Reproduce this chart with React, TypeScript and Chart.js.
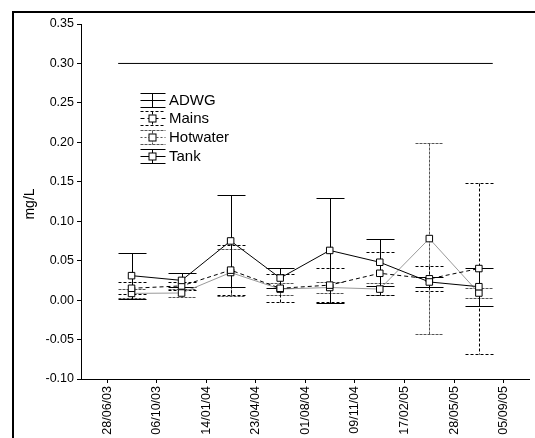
import React, { useEffect, useRef } from 'react';
import { Chart, registerables } from 'chart.js';

Chart.register(...registerables);

// ---- data ----
const tickLabels = ['28/06/03', '06/10/03', '14/01/04', '23/04/04', '01/08/04', '09/11/04', '17/02/05', '28/05/05', '05/09/05'];
const yTickValues = [-0.1, -0.05, 0, 0.05, 0.1, 0.15, 0.2, 0.25, 0.3, 0.35];
const sampleDates = ['16/08/03', '25/11/03', '03/03/04', '11/06/04', '19/09/04', '29/12/04', '08/04/05', '17/07/05'];
const adwgDates = ['20/07/03', '14/08/05'];
const adwgValues = [0.3, 0.3];
const mainsMeans = [0.015, 0.018, 0.038, 0.015, 0.019, 0.034, 0.027, 0.04];
const mainsErrors = [0.0075, 0.005, 0.032, 0.018, 0.022, 0.027, 0.016, 0.108];
const hotwaterMeans = [0.0085, 0.009, 0.035, 0.014, 0.016, 0.014, 0.078, 0.009];
const hotwaterErrors = [0.0055, 0.0053, 0.03, 0.0076, 0.007, 0.0078, 0.121, 0.006];
const tankMeans = [0.031, 0.025, 0.075, 0.028, 0.063, 0.048, 0.023, 0.017];
const tankErrors = [0.029, 0.009, 0.058, 0.013, 0.067, 0.03, 0.006, 0.024];
const seriesNames = ['ADWG', 'Mains', 'Hotwater', 'Tank'];
const yTitle = 'mg/L';

const DAY = 86400000;
function parseDMY(s: string): number {
  const [d, m, y] = s.split('/').map(Number);
  return Date.UTC(2000 + y, m - 1, d) / DAY;
}
const baseDay = parseDMY(tickLabels[0]);
const toDay = (s: string) => parseDMY(s) - baseDay;

const FONT = '"Liberation Sans", Arial, sans-serif';

type Style = { line: string; lineDash: number[]; bar: string; barDash: number[]; marker: boolean };
const styles: Record<string, Style> = {
  ADWG: { line: '#000', lineDash: [], bar: '#000', barDash: [], marker: false },
  Mains: { line: '#000', lineDash: [4, 3], bar: '#000', barDash: [3, 2], marker: true },
  Hotwater: { line: '#9a9a9a', lineDash: [], bar: '#555', barDash: [3, 1], marker: true },
  Tank: { line: '#000', lineDash: [], bar: '#000', barDash: [], marker: true },
};

const errorSeries = [
  { name: 'Hotwater', means: hotwaterMeans, errs: hotwaterErrors },
  { name: 'Mains', means: mainsMeans, errs: mainsErrors },
  { name: 'Tank', means: tankMeans, errs: tankErrors },
];

const framePlugin = {
  id: 'frame',
  beforeDraw(chart: any) {
    const ctx = chart.ctx;
    ctx.save();
    ctx.fillStyle = '#fff';
    ctx.fillRect(0, 0, chart.width, chart.height);
    ctx.strokeStyle = '#000';
    ctx.lineWidth = 2;
    ctx.beginPath();
    ctx.moveTo(13, chart.height + 2);
    ctx.lineTo(13, 12);
    ctx.lineTo(chart.width + 2, 12);
    ctx.stroke();
    ctx.restore();
  },
};

const errorBarPlugin = {
  id: 'errorBars',
  beforeDatasetsDraw(chart: any) {
    const ctx = chart.ctx;
    const xs = chart.scales.x;
    const ys = chart.scales.y;
    const cap = 14;
    ctx.save();
    errorSeries.forEach((s) => {
      const st = styles[s.name];
      ctx.strokeStyle = st.bar;
      ctx.lineWidth = 1;
      ctx.setLineDash(st.barDash);
      s.means.forEach((m, i) => {
        const x = Math.round(xs.getPixelForValue(toDay(sampleDates[i]))) + 0.5;
        const yTop = Math.round(ys.getPixelForValue(m + s.errs[i])) + 0.5;
        const yBot = Math.round(ys.getPixelForValue(m - s.errs[i])) + 0.5;
        ctx.beginPath();
        ctx.moveTo(x, yTop);
        ctx.lineTo(x, yBot);
        ctx.moveTo(x - cap, yTop);
        ctx.lineTo(x + cap, yTop);
        ctx.moveTo(x - cap, yBot);
        ctx.lineTo(x + cap, yBot);
        ctx.stroke();
      });
    });
    ctx.restore();
  },
};

const overlayPlugin = {
  id: 'overlay',
  afterDraw(chart: any) {
    const ctx = chart.ctx;
    ctx.save();
    // y title
    ctx.fillStyle = '#000';
    ctx.font = `14px ${FONT}`;
    ctx.textAlign = 'center';
    ctx.textBaseline = 'middle';
    ctx.translate(30, 204);
    ctx.rotate(-Math.PI / 2);
    ctx.fillText(yTitle, 0, 0);
    ctx.restore();

    // legend
    ctx.save();
    const x0 = 140.5, x1 = 165.5, cx = 152.5;
    const rowY = [99.5, 118, 137, 155.5];
    seriesNames.forEach((name, i) => {
      const st = styles[name];
      const cy = Math.round(rowY[i]) + 0.5;
      ctx.lineWidth = 1;
      ctx.strokeStyle = st.bar;
      ctx.setLineDash(st.barDash);
      ctx.beginPath();
      ctx.moveTo(x0, cy - 7);
      ctx.lineTo(x1, cy - 7);
      ctx.moveTo(x0, cy + 7);
      ctx.lineTo(x1, cy + 7);
      ctx.moveTo(cx, cy - 7);
      ctx.lineTo(cx, cy + 7);
      ctx.stroke();
      ctx.strokeStyle = name === 'Hotwater' ? '#555' : st.line;
      ctx.setLineDash(name === 'Hotwater' ? [2, 2] : st.lineDash);
      ctx.beginPath();
      ctx.moveTo(x0, cy);
      ctx.lineTo(x1, cy);
      ctx.stroke();
      ctx.setLineDash([]);
      if (st.marker) {
        ctx.fillStyle = '#fff';
        ctx.strokeStyle = '#000';
        ctx.fillRect(cx - 3.5, cy - 3.5, 7, 7);
        ctx.strokeRect(cx - 3.5, cy - 3.5, 7, 7);
      }
      ctx.fillStyle = '#000';
      ctx.font = `15px ${FONT}`;
      ctx.textAlign = 'left';
      ctx.textBaseline = 'middle';
      ctx.fillText(name, 169, rowY[i] + 1);
    });
    ctx.restore();
  },
};

function pts(dates: string[], vals: number[]) {
  return vals.map((v, i) => ({ x: toDay(dates[i]), y: v }));
}

function lineDs(name: string, data: any[]) {
  const st = styles[name];
  return {
    label: name,
    data,
    borderColor: st.line,
    borderDash: st.lineDash,
    borderWidth: 1,
    pointStyle: 'rect',
    pointRadius: st.marker ? 4.6 : 0,
    pointBackgroundColor: '#fff',
    pointBorderColor: '#000',
    pointBorderWidth: 1,
    fill: false,
    tension: 0,
  };
}

export default function App() {
  const ref = useRef<HTMLCanvasElement>(null);
  useEffect(() => {
    if (!ref.current) return;
    const chart = new Chart(ref.current, {
      type: 'line',
      data: {
        datasets: [
          lineDs('Tank', pts(sampleDates, tankMeans)),
          lineDs('Mains', pts(sampleDates, mainsMeans)),
          lineDs('Hotwater', pts(sampleDates, hotwaterMeans)),
          lineDs('ADWG', pts(adwgDates, adwgValues)),
        ] as any,
      },
      options: {
        responsive: false,
        animation: false,
        events: [],
        layout: { padding: { top: 24, right: 5, left: 0, bottom: 0 } },
        plugins: { legend: { display: false }, tooltip: { enabled: false } },
        scales: {
          x: {
            type: 'linear',
            min: -53,
            max: 852,
            afterBuildTicks: (scale: any) => {
              scale.ticks = tickLabels.map((s) => ({ value: toDay(s) }));
            },
            afterFit: (scale: any) => {
              scale.height = 59;
            },
            grid: { display: true, drawOnChartArea: false, drawTicks: true, tickLength: 4, color: '#000' },
            border: { display: true, color: '#000', width: 1 },
            ticks: {
              autoSkip: false,
              minRotation: 90,
              maxRotation: 90,
              padding: 3,
              color: '#000',
              font: { family: FONT, size: 12.5 },
              callback: (_v: any, i: number) => tickLabels[i],
            },
          },
          y: {
            type: 'linear',
            min: -0.1,
            max: 0.35,
            afterBuildTicks: (scale: any) => {
              scale.ticks = yTickValues.map((v) => ({ value: v }));
            },
            afterFit: (scale: any) => {
              scale.width = 81;
            },
            grid: { display: true, drawOnChartArea: false, drawTicks: true, tickLength: 4, color: '#000' },
            border: { display: true, color: '#000', width: 1 },
            ticks: {
              padding: 3,
              color: '#000',
              font: { family: FONT, size: 12.5 },
              callback: (v: any) => Number(v).toFixed(2),
            },
          },
        },
      } as any,
      plugins: [framePlugin, errorBarPlugin, overlayPlugin],
    });
    return () => chart.destroy();
  }, []);
  return (
    <div style={{ position: 'fixed', left: 0, top: 0, width: 535, height: 438, background: '#fff' }}>
      <canvas ref={ref} width={535} height={438} style={{ display: 'block' }} />
    </div>
  );
}
